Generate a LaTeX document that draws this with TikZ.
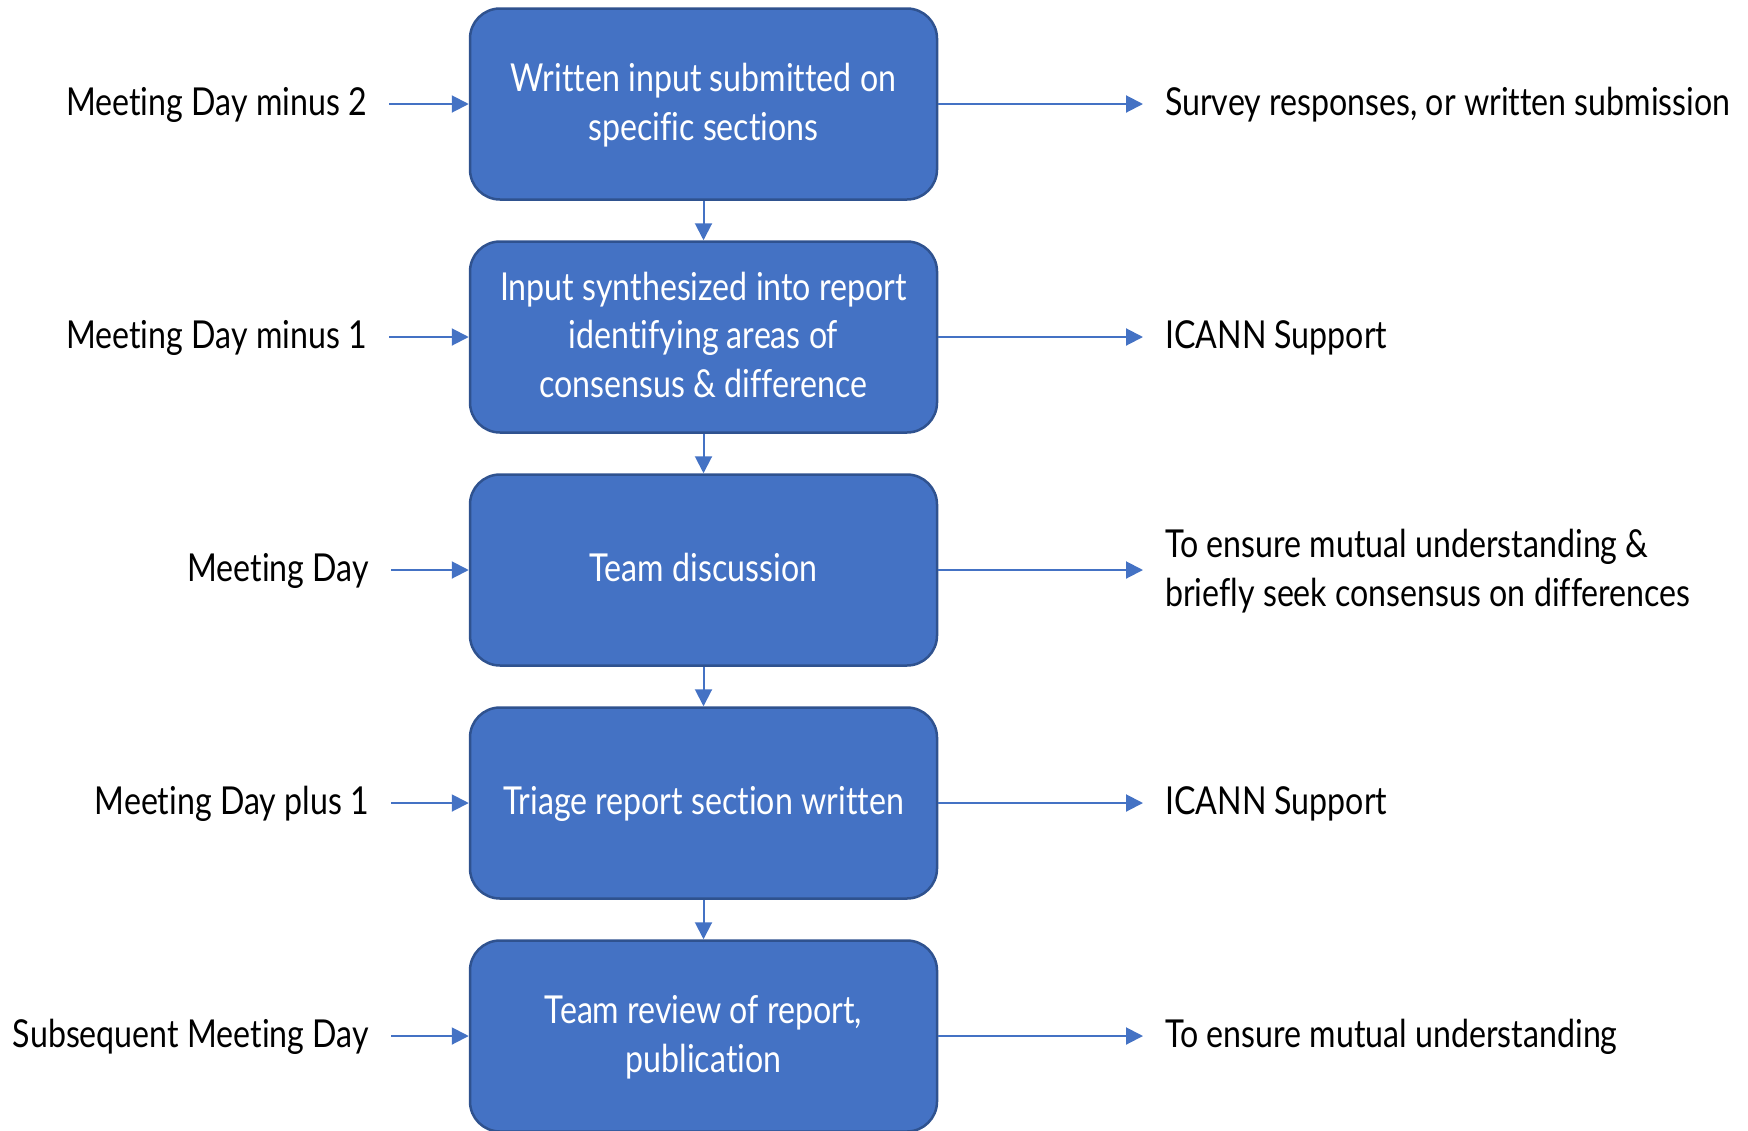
\documentclass[tikz,border=0pt]{standalone}
\usepackage{fontspec}
\setmainfont{Lato}[FakeStretch=0.835, Ligatures=NoCommon]
\usetikzlibrary{arrows.meta}
\definecolor{boxblue}{HTML}{4472C4}
\definecolor{boxedge}{HTML}{2F528F}
\newcommand\tpst{\rule{0pt}{1em}}
\newcommand\btst{\rule[-0.38em]{0pt}{0pt}}
\begin{document}
\begin{tikzpicture}[x=1pt,y=-1pt,
  every node/.style={font=\fontsize{38.5}{48.5}\selectfont, inner sep=0pt},
  stepbox/.style={draw=boxedge, line width=2.5pt, fill=boxblue, rounded corners=30pt,
    minimum width=467pt, minimum height=191pt, text=white, align=center},
  lbl/.style={anchor=east, text=black},
  rlbl/.style={anchor=west, text=black, align=left},
  conn/.style={draw=boxblue, line width=2pt, -{Triangle[length=17pt,width=17pt]}}
]
\useasboundingbox (0,0) rectangle (1748,1130);
% boxes
\node[stepbox] (b1) at (703.5,104) {\tpst Written input submitted on\\specific sections\btst};
\node[stepbox] (b2) at (703.5,337) {\tpst Input synthesized into report\\identifying areas of\\consensus \& difference\btst};
\node[stepbox] (b3) at (703.5,570) {\tpst Team discussion\btst};
\node[stepbox] (b4) at (703.5,803) {\tpst Triage report section written\btst};
\node[stepbox] (b5) at (703.5,1036) {\tpst Team review of report,\\publication\btst};
% left labels
\node[lbl] (l1) at (367,104) {\tpst Meeting Day minus 2\btst};
\node[lbl] (l2) at (367,337) {\tpst Meeting Day minus 1\btst};
\node[lbl] (l3) at (369,570) {\tpst Meeting Day\btst};
\node[lbl] (l4) at (369,803) {\tpst Meeting Day plus 1\btst};
\node[lbl] (l5) at (369,1036) {\tpst Subsequent Meeting Day\btst};
% right labels
\node[rlbl] (r1) at (1165,104) {\tpst Survey responses, or written submission\btst};
\node[rlbl] (r2) at (1165,337) {\tpst ICANN Support\btst};
\node[rlbl] (r3) at (1165,570) {\tpst To ensure mutual understanding \&\\briefly seek consensus on differences\btst};
\node[rlbl] (r4) at (1165,803) {\tpst ICANN Support\btst};
\node[rlbl] (r5) at (1165,1036) {\tpst To ensure mutual understanding\btst};
% vertical connectors
\draw[conn] (b1.south) -- (b2.north);
\draw[conn] (b2.south) -- (b3.north);
\draw[conn] (b3.south) -- (b4.north);
\draw[conn] (b4.south) -- (b5.north);
% horizontal connectors
\foreach \i in {1,...,5} {
  \draw[conn] ([xshift=22pt]l\i.east) -- (b\i.west);
  \draw[conn] (b\i.east) -- ([xshift=-22pt]r\i.west);
}
\end{tikzpicture}
\end{document}
